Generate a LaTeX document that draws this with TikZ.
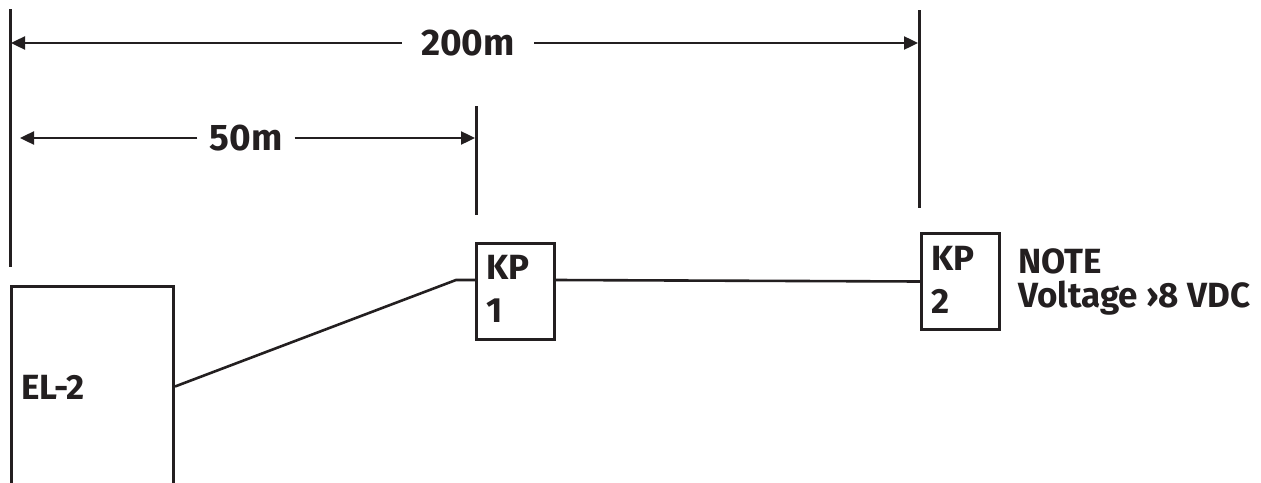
\documentclass[tikz,border=0pt]{standalone}
\usepackage{fontspec}
\setmainfont{Fira Sans}
\usetikzlibrary{arrows.meta,calc}
\definecolor{ink}{HTML}{231F20}
\begin{document}
\begin{tikzpicture}[x=1pt,y=-1pt,
  lbl/.style={font=\fontsize{35}{40}\selectfont\bfseries, inner sep=0pt, text=ink},
  dimlbl/.style={font=\fontsize{37}{42}\selectfont\bfseries, inner ysep=0pt, text=ink},
  vline/.style={line width=3pt, draw=ink},
  wire/.style={line width=2.6pt, draw=ink},
  dimline/.style={line width=2.4pt, draw=ink, -{Triangle[length=14pt,width=13pt]}},
  boxst/.style={draw=ink, line width=3pt, inner sep=0pt, anchor=north west},
]
\clip (0,0) rectangle (1261,482);
\fill[white] (0,0) rectangle (1261,482);

% extension lines
\coordinate (v0t) at (10,9);   \coordinate (v0b) at (10,267);
\coordinate (v1t) at (476,106); \coordinate (v1b) at (476,215);
\coordinate (v2t) at (919,10);  \coordinate (v2b) at (919,208);
\draw[vline] (v0t) -- (v0b);
\draw[vline] (v1t) -- (v1b);
\draw[vline] (v2t) -- (v2b);

% 200m dimension
\node[dimlbl, inner xsep=19pt] (d200) at (468,43) {200m};
\coordinate (a200l) at (11,43);
\coordinate (a200r) at (918,43);
\draw[dimline] (d200.west) -- (a200l);
\draw[dimline] (d200.east) -- (a200r);

% 50m dimension
\node[dimlbl, inner xsep=12pt] (d50) at (246,138) {50m};
\coordinate (a50l) at (20,138);
\coordinate (a50r) at (475,138);
\draw[dimline] (d50.west) -- (a50l);
\draw[dimline] (d50.east) -- (a50r);

% boxes
\node[boxst, minimum width=162pt, minimum height=200pt] (el2) at (10,285) {};
\node[lbl, anchor=base west] (el2t) at (21,399) {EL-2};

\node[boxst, minimum width=78pt, minimum height=96pt] (kp1) at (475,242) {};
\node[lbl, anchor=base west] (kp1a) at (486,279) {KP};
\node[lbl, anchor=base west] (kp1b) at (486,322) {1};

\node[boxst, minimum width=78pt, minimum height=96pt] (kp2) at (920,232) {};
\node[lbl, anchor=base west] (kp2a) at (931,270) {KP};
\node[lbl, anchor=base west] (kp2b) at (931,313) {2};

% note
\node[lbl, anchor=base west] (note1) at (1018,273) {NOTE};
\node[lbl, anchor=base west] (note2) at (1018,307) {Voltage ›8 VDC};

% wiring
\coordinate (bend) at (456,280);
\draw[wire] (el2.east) -- (bend) -- (bend -| kp1.west);
\draw[wire] (kp1.east |- bend) -- (kp2.west);
\end{tikzpicture}
\end{document}
